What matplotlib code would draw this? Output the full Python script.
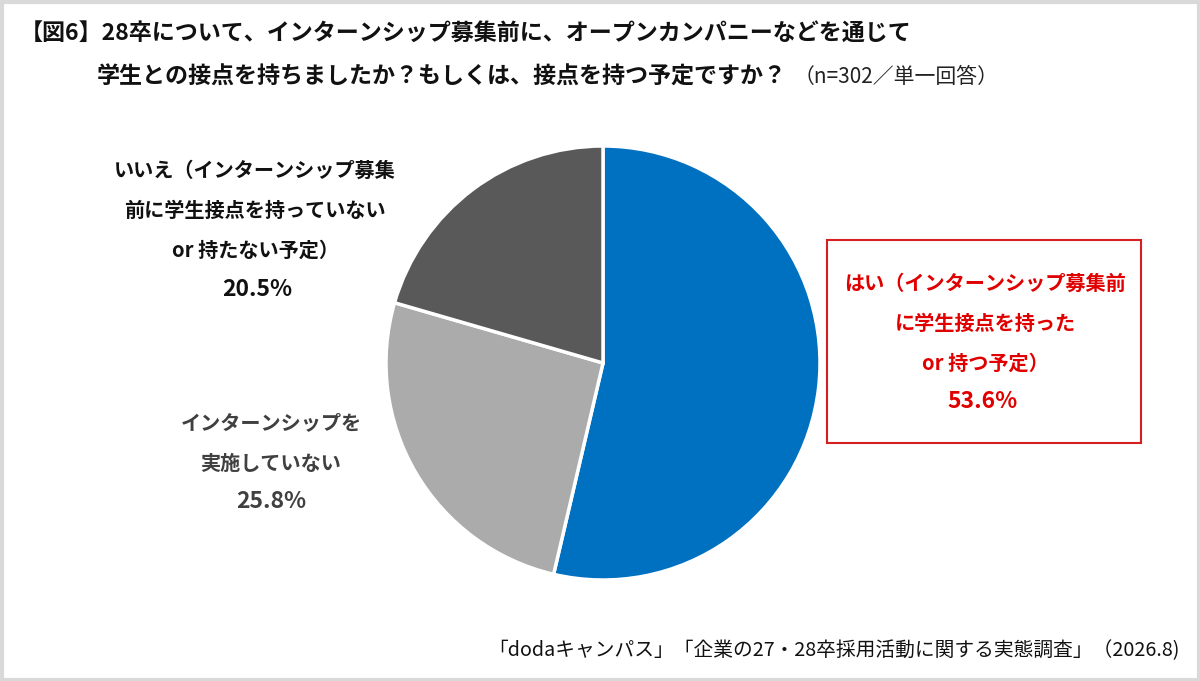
import matplotlib
matplotlib.use('Agg')
import matplotlib.pyplot as plt
from matplotlib.patches import Rectangle

plt.rcParams['font.family'] = ['Noto Sans CJK JP', 'DejaVu Sans']

# data
labels = ['はい', 'インターンシップを実施していない', 'いいえ']
shares = [53.6, 25.8, 20.5]
colors = ['#0070C0', '#ABABAB', '#595959']

title1 = '【図6】28卒について、インターンシップ募集前に、オープンカンパニーなどを通じて'
title2 = '学生との接点を持ちましたか？もしくは、接点を持つ予定ですか？'
title_note = '（n=302／単一回答）'
source = '「dodaキャンパス」「企業の27・28卒採用活動に関する実態調査」（2026.8)'

yes_lines = ['はい（インターンシップ募集前', 'に学生接点を持った', 'or 持つ予定）']
no_lines = ['いいえ（インターンシップ募集', '前に学生接点を持っていない', 'or 持たない予定）']
none_lines = ['インターンシップを', '実施していない']

W, H = 1200, 681
fig = plt.figure(figsize=(12, 6.81), dpi=100)
ax = fig.add_axes([0, 0, 1, 1])

def Y(y):
    return H - y

ax.pie(shares, colors=colors, startangle=90, counterclock=False,
       center=(603, Y(363)), radius=217,
       wedgeprops=dict(edgecolor='white', linewidth=2.5))
ax.set_xlim(0, W)
ax.set_ylim(0, H)
ax.set_aspect('equal')
ax.axis('off')

# outer frame
ax.add_patch(Rectangle((1.5, 1.5), W - 3, H - 3, fill=False,
                       edgecolor='#D9D9D9', linewidth=3))

# title
ax.text(20, Y(33), title1, fontsize=16.6, fontweight='bold', color='#111111',
        ha='left', va='center')
ax.text(97, Y(77), title2, fontsize=16.6, fontweight='bold', color='#111111',
        ha='left', va='center')
ax.text(794, Y(77), title_note, fontsize=15, color='#222222',
        ha='left', va='center')

step = 40
fs = 14.5
pfs = 16.5

# いいえ label
for i, s in enumerate(no_lines):
    ax.text(255, Y(170 + i * step), s, fontsize=fs, fontweight='bold',
            color='#111111', ha='center', va='center')
ax.text(257, Y(290), '%.1f%%' % shares[2], fontsize=pfs, fontweight='bold',
        color='#111111', ha='center', va='center')

# no-internship label
gray = '#404040'
for i, s in enumerate(none_lines):
    ax.text(271, Y(423 + i * step), s, fontsize=fs, fontweight='bold',
            color=gray, ha='center', va='center')
ax.text(271, Y(502), '%.1f%%' % shares[1], fontsize=pfs, fontweight='bold',
        color=gray, ha='center', va='center')

# はい label in red box
red = '#E00000'
ax.add_patch(Rectangle((827, Y(443)), 314, 203, fill=False,
                       edgecolor='#D42020', linewidth=1.5))
for i, s in enumerate(yes_lines):
    ax.text(985, Y(283 + i * step), s, fontsize=fs, fontweight='bold',
            color=red, ha='center', va='center')
ax.text(983, Y(402), '%.1f%%' % shares[0], fontsize=pfs, fontweight='bold',
        color=red, ha='center', va='center')

# source
ax.text(1180, Y(651), source, fontsize=14.2, color='#111111',
        ha='right', va='center')

fig.savefig('out.png', dpi=100)
plt.close()
